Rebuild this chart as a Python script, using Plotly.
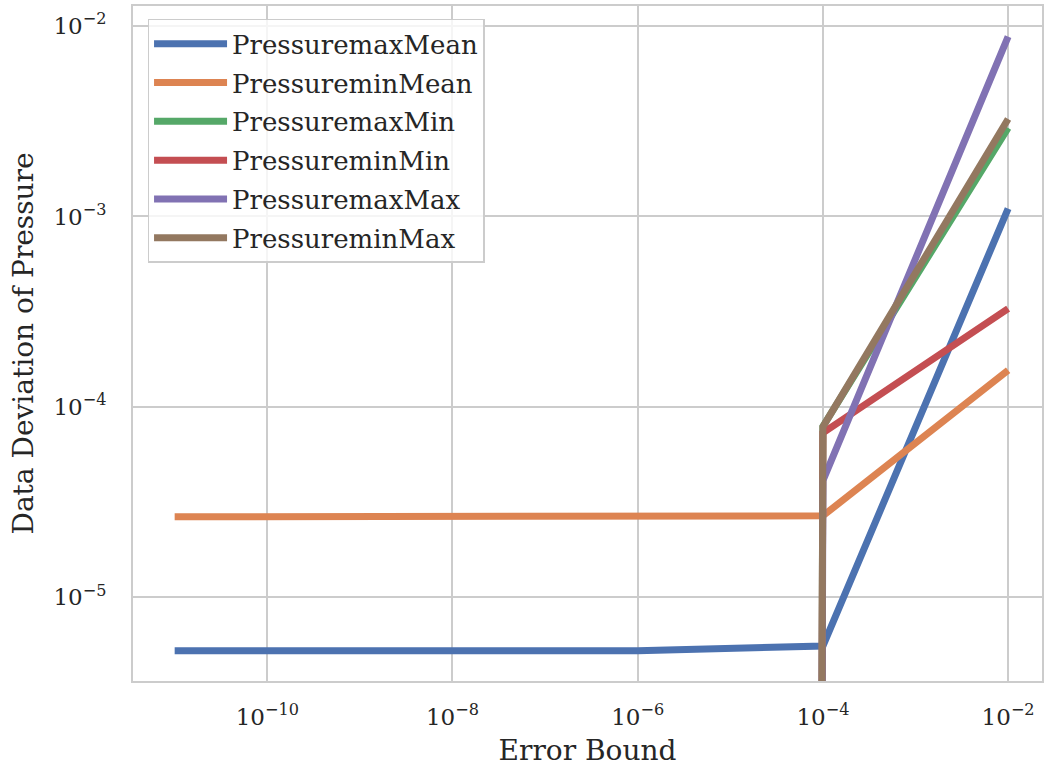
import plotly.graph_objects as go

error_bound = [1e-11, 1e-6, 1e-4, 1e-2]

series_names = ["PressuremaxMean", "PressureminMean", "PressuremaxMin",
                "PressureminMin", "PressuremaxMax", "PressureminMax"]
pressuremax_mean = [5.25e-6, 5.25e-6, 5.55e-6, 1.10e-3]
pressuremin_mean = [2.65e-5, 2.65e-5, 2.68e-5, 1.56e-4]
pressuremax_min = [0.0, 0.0, 7.9e-5, 2.92e-3]
pressuremin_min = [0.0, 0.0, 7.3e-5, 3.28e-4]
pressuremax_max = [0.0, 0.0, 4.1e-5, 8.79e-3]
pressuremin_max = [0.0, 0.0, 7.86e-5, 3.25e-3]

colors = ["#4c72b0", "#dd8452", "#55a868", "#c44e52", "#8172b3", "#937860"]

x_tick_vals = [1e-10, 1e-8, 1e-6, 1e-4, 1e-2]
x_tick_text = ["10<sup>\u221210</sup>", "10<sup>\u22128</sup>", "10<sup>\u22126</sup>",
               "10<sup>\u22124</sup>", "10<sup>\u22122</sup>"]
y_tick_vals = [1e-5, 1e-4, 1e-3, 1e-2]
y_tick_text = ["10<sup>\u22125</sup>", "10<sup>\u22124</sup>", "10<sup>\u22123</sup>",
               "10<sup>\u22122</sup>"]

# matplotlib clips non-positive values on log axes to a tiny positive number
CLIP = 1e-300

def clip(vals):
    return [v if v > 0 else CLIP for v in vals]

all_series = [pressuremax_mean, pressuremin_mean, pressuremax_min,
              pressuremin_min, pressuremax_max, pressuremin_max]

FONT = "DejaVu Serif"
TXT = "#262626"
fig = go.Figure()
for name, vals, c in zip(series_names, all_series, colors):
    fig.add_trace(go.Scatter(
        x=error_bound, y=clip(vals), mode="lines", name=name,
        legendgroup=name,
        line=dict(color=c, width=7),
    ))

grid = "#cccccc"
fig.update_layout(
    width=1044, height=768,
    margin=dict(l=133, r=0, t=6, b=87),
    paper_bgcolor="white", plot_bgcolor="white",
    font=dict(family=FONT, size=23, color=TXT),
    showlegend=True,
    legend=dict(
        x=0.016, y=0.981, xanchor="left", yanchor="top",
        bgcolor="rgba(255,255,255,0.8)", bordercolor=grid, borderwidth=1.5,
        font=dict(family=FONT, size=26, color=TXT),
        tracegroupgap=2,
        itemwidth=73,
    ),
    xaxis=dict(
        type="log", range=[-11.45, -1.634],
        tickvals=x_tick_vals, ticktext=x_tick_text,
        showgrid=True, gridcolor=grid, gridwidth=2,
        showline=True, linecolor=grid, linewidth=2, mirror=True,
        zeroline=False, ticks="", ticklabelstandoff=14,
        title=dict(text="Error Bound", font=dict(family=FONT, size=28, color=TXT),
                   standoff=12),
        tickfont=dict(family=FONT, size=23, color=TXT),
    ),
    yaxis=dict(
        type="log", range=[-5.439, -1.895],
        tickvals=y_tick_vals, ticktext=y_tick_text,
        showgrid=True, gridcolor=grid, gridwidth=2,
        showline=True, linecolor=grid, linewidth=2, mirror=True,
        zeroline=False, ticks="", ticklabelstandoff=20,
        title=dict(text="Data Deviation of Pressure",
                   font=dict(family=FONT, size=28, color=TXT), standoff=12),
        tickfont=dict(family=FONT, size=23, color=TXT),
    ),
)

fig.write_html("out.html")
